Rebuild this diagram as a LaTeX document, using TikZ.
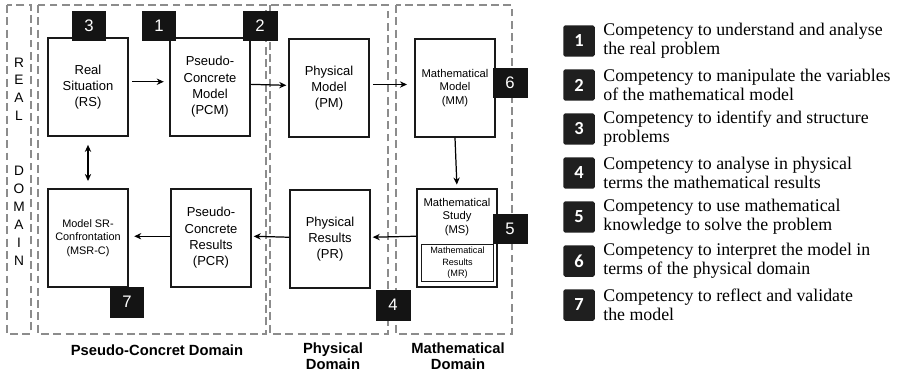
\documentclass[tikz,border=0pt]{standalone}
\usepackage{fontspec}
\setmainfont{Liberation Serif}
\setsansfont{Liberation Sans}
\newfontfamily\keyfont{Carlito}
\usetikzlibrary{arrows.meta,positioning}

\begin{document}
\begin{tikzpicture}[x=0.02cm,y=-0.02cm,
  domainbox/.style={draw=black!45,dash pattern=on 4.5pt off 2.5pt,line width=0.8pt},
  stage/.style={draw=black!90,line width=1.1pt,fill=white,minimum width=1.6cm,minimum height=1.96cm,inner sep=1pt,align=center,font=\sffamily\fontsize{7.4}{9.3}\selectfont},
  badge/.style={fill=black!92,text=white,minimum width=0.7cm,minimum height=0.62cm,inner sep=0pt,font=\sffamily\fontsize{9.5}{9.5}\selectfont},
  keybox/.style={fill=black!88,rounded corners=1pt,text=white,minimum size=0.63cm,inner sep=0pt,font=\keyfont\bfseries\fontsize{10.5}{10.5}\selectfont},
  keytext/.style={anchor=west,align=left,inner sep=0pt,font=\fontsize{10.15}{10.8}\selectfont},
  flow/.style={-{Stealth[length=4pt,width=3.6pt]},line width=0.7pt},
  dlabel/.style={align=center,font=\sffamily\bfseries\fontsize{8.4}{8.8}\selectfont}]
\useasboundingbox (0,0) rectangle (898,375);

\draw[domainbox] (7,5) rectangle (31,334);
\draw[domainbox] (38,5) rectangle (266,334);
\draw[domainbox] (270,5) rectangle (388,334);
\draw[domainbox] (396,5) rectangle (512,334);

\node[align=center,inner sep=0pt,font=\sffamily\fontsize{7.8}{10.1}\selectfont] (realword) at (19,89) {R\\E\\A\\L};
\node[align=center,inner sep=0pt,font=\sffamily\fontsize{7.8}{10.2}\selectfont] (domainword) at (19,216) {D\\O\\M\\A\\I\\N};

\node[stage] (rs) at (88,87) {Real\\Situation\\(RS)};
\node[stage] (pcm) at (210,87) {Pseudo-\\Concrete\\Model\\(PCM)};
\node[stage] (pm) at (329,88) {Physical\\Model\\(PM)};
\node[stage,font=\sffamily\fontsize{6.4}{7.7}\selectfont] (mm) at (455,88) {Mathematical\\Model\\(MM)};
\node[stage,font=\sffamily\fontsize{6.2}{7.6}\selectfont] (msrc) at (88,238) {Model SR-\\Confrontation\\(MSR-C)};
\node[stage] (pcr) at (211,238) {Pseudo-\\Concrete\\Results\\(PCR)};
\node[stage] (pr) at (330,239) {Physical\\Results\\(PR)};
\node[stage] (ms) at (457,238) {};
\node[align=center,inner sep=0pt,font=\sffamily\fontsize{6.4}{7.9}\selectfont] (mstext) at (457,217) {Mathematical\\Study\\(MS)};
\node[draw=black!90,line width=0.9pt,minimum width=1.44cm,minimum height=0.74cm,inner sep=0pt,align=center,font=\sffamily\fontsize{5.2}{6.6}\selectfont] (mr) at (457.5,263) {Mathematical\\Results\\(MR)};

\draw[flow,shorten <=2pt,shorten >=3pt] ([yshift=3pt]rs.east) -- ([yshift=3pt]pcm.west);
\draw[flow,shorten >=1pt] ([yshift=1.5pt]pcm.east) -- ([yshift=1.5pt]pm.west);
\draw[flow,shorten <=2pt,shorten >=4pt] ([yshift=2pt]pm.east) -- ([yshift=2pt]mm.west);
\draw[flow,shorten >=2pt] (mm.south) -- (ms.north);
\draw[flow,shorten >=1pt] ([yshift=1pt]ms.west) -- ([yshift=1pt]pr.east);
\draw[flow,shorten >=1pt] ([yshift=1pt]pr.west) -- ([yshift=1pt]pcr.east);
\draw[flow,shorten >=3pt] ([yshift=1pt]pcr.west) -- ([yshift=1pt]msrc.east);
\draw[{Stealth[length=4pt,width=3.6pt]}-{Stealth[length=4pt,width=3.6pt]},line width=0.7pt,shorten <=4.5pt,shorten >=4pt] (rs.south) -- (msrc.north);

\node[badge] (b3) at (89,26) {3};
\node[badge] (b1) at (159,26) {1};
\node[badge] (b2) at (260,26) {2};
\node[badge] (b6) at (510,83) {6};
\node[badge] (b5) at (510,229) {5};
\node[badge] (b4) at (393,305) {4};
\node[badge] (b7) at (127,302) {7};

\node[dlabel] (pcdomain) at (157,350) {Pseudo-Concret Domain};
\node[dlabel] (phdomain) at (333,356) {Physical\\Domain};
\node[dlabel] (madomain) at (458,356) {Mathematical\\Domain};

\foreach \n/\first/\second [count=\i from 0] in {
  1/Competency to understand and analyse/the real problem,
  2/Competency to manipulate the variables/of the mathematical model,
  3/Competency to identify and structure/problems,
  4/Competency to analyse in physical/terms the mathematical results,
  5/Competency to use mathematical/knowledge to solve the problem,
  6/Competency to interpret the model in/terms of the physical domain,
  7/Competency to reflect and validate/the model} {
  \node[keybox] (key\n) at (579,41+44*\i) {\n};
  \node[keytext] (keytxt\n) at (603,41+44*\i) {\first\\\second};
}
\end{tikzpicture}
\end{document}
